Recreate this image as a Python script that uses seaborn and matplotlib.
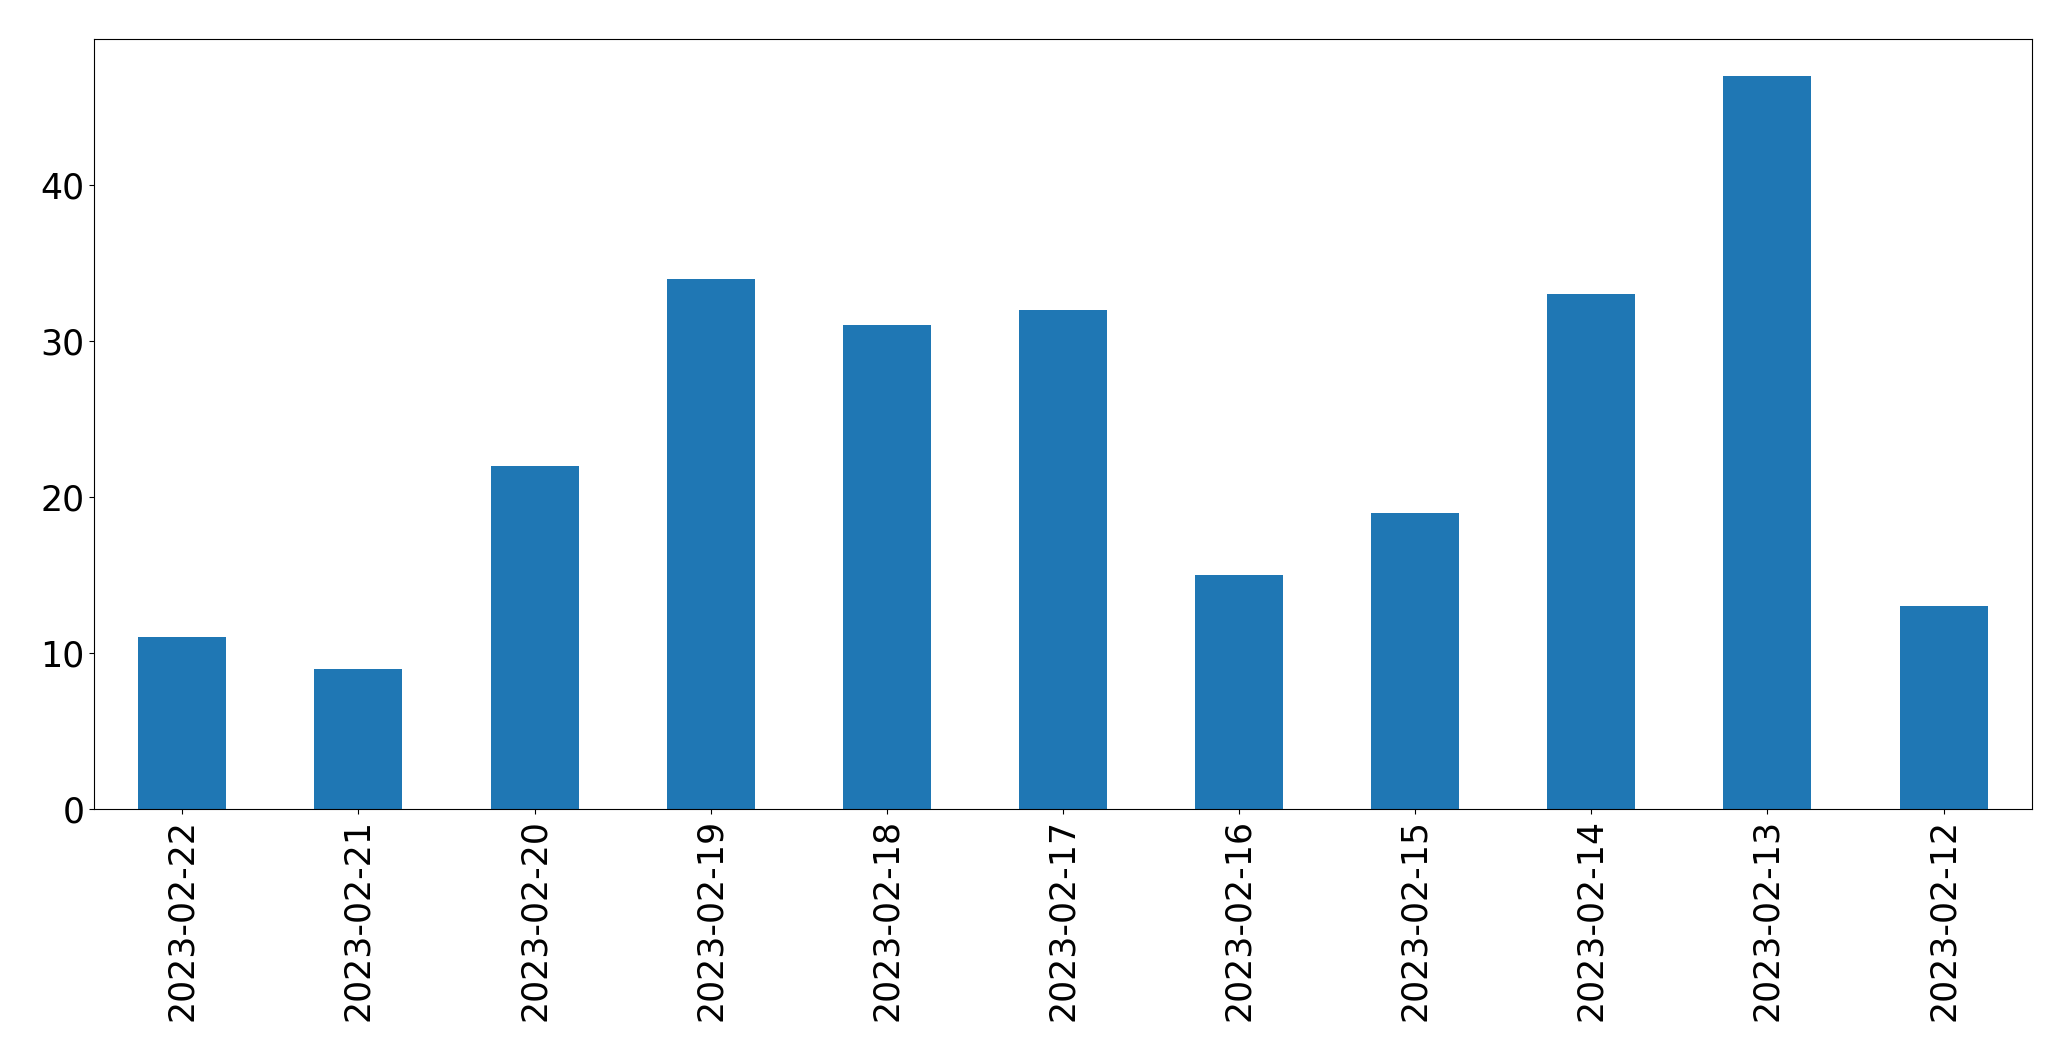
import seaborn as sns
import matplotlib.pyplot as plt
import pandas as pd

dates = ['2023-02-22', '2023-02-21', '2023-02-20', '2023-02-19', '2023-02-18', '2023-02-17',
         '2023-02-16', '2023-02-15', '2023-02-14', '2023-02-13', '2023-02-12']
counts = [11, 9, 22, 34, 31, 32, 15, 19, 33, 47, 13]

df = pd.DataFrame({'date': dates, 'count': counts})

fig, ax = plt.subplots(figsize=(20.71, 10.61), dpi=100)
sns.barplot(data=df, x='date', y='count', order=dates, color='#1f77b4',
            saturation=1, width=0.5, linewidth=0, ax=ax)

ax.set_xlim(-0.5, len(dates) - 0.5)
ax.set_ylim(0, max(counts) * 1.05)
ax.set_xlabel('')
ax.set_ylabel('')
ax.tick_params(axis='both', labelsize=25)
ax.tick_params(axis='x', labelrotation=90)

plt.subplots_adjust(left=0.0455, right=0.981, top=0.963, bottom=0.2375)
plt.savefig('out.png', dpi=100)
plt.close()
